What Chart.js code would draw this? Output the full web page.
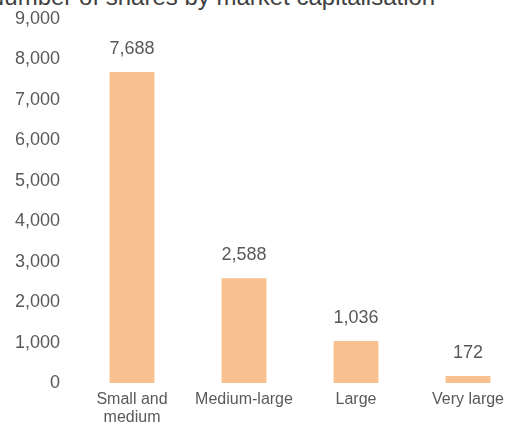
<!DOCTYPE html>
<html>
<head>
<meta charset="utf-8">
<script src="https://cdn.jsdelivr.net/npm/chart.js@4"></script>
<style>
  html, body { margin: 0; padding: 0; background: #fff; overflow: hidden; }
  body { width: 506px; height: 423px; position: relative; }
  #title {
    position: absolute; left: -13px; top: -15px;
    font: 24px "Liberation Sans", Arial, sans-serif; line-height: 24px;
    color: #404040; white-space: nowrap;
  }
  #wrap { position: absolute; left: 0; top: 0; width: 530px; height: 423px; }
</style>
</head>
<body>
<div id="title">Number of shares by market capitalisation</div>
<div id="wrap"><canvas id="chart" width="530" height="423"></canvas></div>
<script>
const categories = [['Small and', 'medium'], 'Medium-large', 'Large', 'Very large'];
const shareCounts = [7688, 2588, 1036, 172];
const yTicks = [0, 1000, 2000, 3000, 4000, 5000, 6000, 7000, 8000, 9000];

const textColor = '#595959';
const fontFamily = '"Liberation Sans", Arial, sans-serif';

// labels over each bar, placed from the bar element position
const valueLabels = {
  id: 'valueLabels',
  afterDatasetsDraw(chart) {
    const ctx = chart.ctx;
    ctx.save();
    ctx.font = '18px ' + fontFamily;
    ctx.fillStyle = textColor;
    ctx.textAlign = 'center';
    ctx.textBaseline = 'middle';
    chart.getDatasetMeta(0).data.forEach((bar, i) => {
      ctx.fillText(shareCounts[i].toLocaleString('en-US'), bar.x, bar.y - 23);
    });
    ctx.restore();
  }
};

new Chart(document.getElementById('chart'), {
  type: 'bar',
  data: {
    labels: categories,
    datasets: [{
      data: shareCounts,
      backgroundColor: 'rgb(249, 192, 143)',
      barPercentage: 0.4,
      categoryPercentage: 1
    }]
  },
  options: {
    responsive: false,
    animation: false,
    layout: { padding: { top: 3, right: 6, left: 0, bottom: 0 } },
    plugins: { legend: { display: false }, tooltip: { enabled: false } },
    scales: {
      x: {
        grid: { display: false },
        border: { display: false },
        afterFit: axis => { axis.height = 40; },
        ticks: { color: textColor, font: { size: 16, family: fontFamily, lineHeight: 1.12 }, padding: 0, maxRotation: 0 }
      },
      y: {
        min: 0,
        max: 9000,
        afterBuildTicks: axis => { axis.ticks = yTicks.map(v => ({ value: v })); },
        afterFit: axis => { axis.width = 76; },
        grid: { display: false },
        border: { display: false },
        ticks: {
          color: textColor,
          font: { size: 18, family: fontFamily },
          padding: 8,
          callback: v => v.toLocaleString('en-US')
        }
      }
    }
  },
  plugins: [valueLabels]
});
</script>
</body>
</html>
